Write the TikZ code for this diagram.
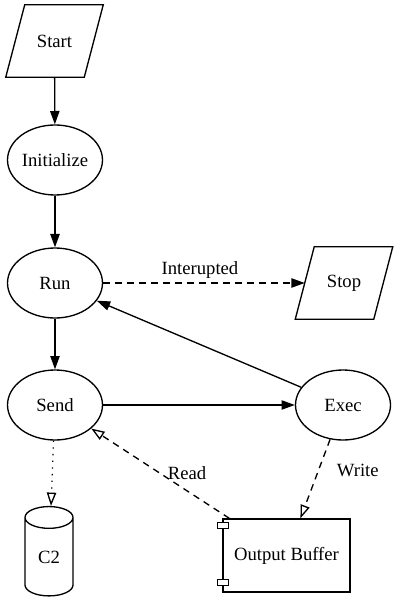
\documentclass[tikz,border=0pt]{standalone}
\usepackage{fontspec}
\setmainfont{Liberation Serif}
\usepackage{tikz}
\usetikzlibrary{arrows.meta,positioning,shapes.geometric,calc}

\tikzset{
    every node/.style={font=\rmfamily\fontsize{14pt}{16pt}\selectfont},
    elipse/.style={draw, ellipse, line width=1pt, inner sep=0pt, minimum width=71.25pt, minimum height=52.5pt},
    paralelo/.style={rectangle, inner sep=0pt, minimum width=58.5pt, minimum height=54pt},
    borda/.style={line width=1pt, line join=miter},
    seta/.style={line width=1pt, -{Triangle[length=10pt,width=7pt]}},
    setaaberta/.style={line width=1pt, -{Triangle[open,length=10pt,width=7pt]}},
    tracejado/.style={dash pattern=on 5pt off 4pt},
    pontilhado/.style={dash pattern=on 1pt off 4pt},
}

\begin{document}
\begin{tikzpicture}[x=0.75pt, y=-0.75pt]
        \useasboundingbox (0,0) rectangle (400,609);
        % Fluxo principal (esquerda)
        \node[paralelo] (start) at (54.5,41) {Start};
        \draw[borda] ($(start.north west)+(9.5,0)$) -- ($(start.north east)+(9.5,0)$)
            -- ($(start.south east)+(-9.5,0)$) -- ($(start.south west)+(-9.5,0)$) -- cycle;
        \node[elipse] (init) at (55,160) {Initialize};
        \node[elipse] (run) at (55,283) {Run};
        \node[elipse] (send) at (55,405) {Send};
        % Lado direito
        \node[paralelo] (stop) at (344,283) {Stop};
        \draw[borda] ($(stop.north west)+(9.5,0)$) -- ($(stop.north east)+(9.5,0)$)
            -- ($(stop.south east)+(-9.5,0)$) -- ($(stop.south west)+(-9.5,0)$) -- cycle;
        \node[elipse] (exec) at (343,405) {Exec};
        % C2 (cilindro)
        \node[draw, cylinder, shape border rotate=90, aspect=1, line width=1pt, inner sep=0pt, minimum width=36pt, minimum height=67pt] (c2) at (49,557) {C2};
        % Buffer de saida (componente)
        \node[draw, rectangle, line width=1pt, inner sep=0pt, minimum width=95.25pt, minimum height=54.75pt] (outbuf) at (286.5,555.5) {Output Buffer};
        \draw[line width=1pt, fill=white] ($(outbuf.north west)+(-5,4)$) rectangle ++(11,6);
        \draw[line width=1pt, fill=white] ($(outbuf.south west)+(-5,-13)$) rectangle ++(11,6);
        % Arestas
        \draw[seta] (start) -- (init);
        \draw[seta] (init) -- (run);
        \draw[seta] (run) -- (send);
        \draw[seta] (send) -- (exec);
        \draw[seta] (exec) -- (run);
        \draw[seta, tracejado] (run) -- node[midway, xshift=-3pt, yshift=9.75pt] (lblint) {Interupted} (stop);
        \draw[setaaberta, pontilhado] (send) -- (c2);
        \draw[setaaberta, tracejado] (outbuf) -- node[midway, anchor=west, xshift=5.25pt, inner sep=0pt] (lblread) {Read} (send);
        \draw[setaaberta, tracejado] (exec) -- node[midway, anchor=west, xshift=15.75pt, yshift=6pt, inner sep=0pt] (lblwrite) {Write} (outbuf);
    \end{tikzpicture}
\end{document}
